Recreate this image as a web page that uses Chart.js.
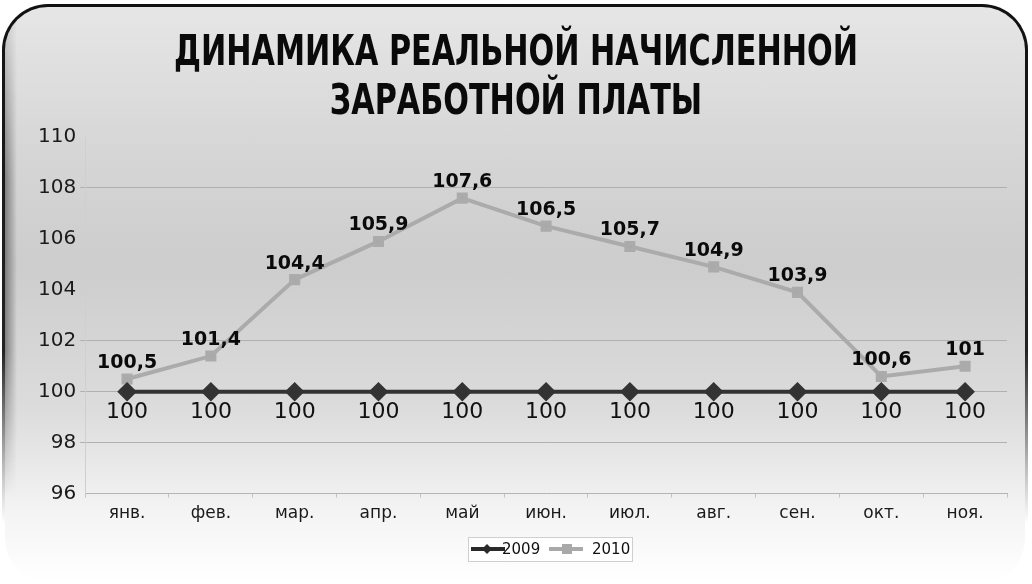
<!DOCTYPE html>
<html><head><meta charset="utf-8">
<script src="https://cdn.jsdelivr.net/npm/chart.js@4"></script>
<style>
html,body{margin:0;padding:0;width:1032px;height:584px;overflow:hidden;background:#fff;}
#frame{position:absolute;left:2px;top:4px;width:1026px;height:578px;border-radius:46px;
 background:linear-gradient(to bottom,#111 0%,#222 60%,#bbb 80%,#fff 90%);}
#inner{position:absolute;left:3px;top:3px;right:3px;bottom:0px;border-radius:43px;overflow:hidden;
 background:linear-gradient(to bottom,#e6e6e6 0%,#d6d6d6 25%,#cdcdcd 45%,#dcdcdc 70%,#f4f4f4 88%,#ffffff 100%);}
#shade{position:absolute;left:0;top:0;width:12px;height:100%;
 background:linear-gradient(to right,rgba(70,70,70,0.6),rgba(120,120,120,0));
 -webkit-mask-image:linear-gradient(to bottom,rgba(0,0,0,0.3) 5%,rgba(0,0,0,1) 30%,rgba(0,0,0,1) 60%,rgba(0,0,0,0) 85%);
 mask-image:linear-gradient(to bottom,rgba(0,0,0,0.3) 5%,rgba(0,0,0,1) 30%,rgba(0,0,0,1) 60%,rgba(0,0,0,0) 85%);}
#title{position:absolute;left:0;width:1032px;top:30px;text-align:center;
 font-family:"DejaVu Sans Condensed",sans-serif;font-weight:bold;
 font-size:40px;line-height:45px;color:#0a0a0a;transform:scale(0.84,1.08);}
canvas{position:absolute;left:0;top:0;}
</style></head>
<body>
<div id="frame"><div id="inner"><div id="shade"></div></div></div>
<div id="title">ДИНАМИКА РЕАЛЬНОЙ НАЧИСЛЕННОЙ<br>ЗАРАБОТНОЙ ПЛАТЫ</div>
<canvas id="c" width="1032" height="584"></canvas>
<script>
const categories = ["янв.","фев.","мар.","апр.","май","июн.","июл.","авг.","сен.","окт.","ноя."];
const values2009 = [100,100,100,100,100,100,100,100,100,100,100];
const values2010 = [100.5,101.4,104.4,105.9,107.6,106.5,105.7,104.9,103.9,100.6,101];
const seriesNames = ["2009","2010"];
const yTicks = [96,98,100,102,104,106,108,110];
const visibleGrid = [98,100,102,108];

const fmt = v => String(v).replace('.', ',');

const labelPlugin = {
  id:'labels',
  afterDatasetsDraw(chart){
    const ctx = chart.ctx;
    ctx.save();
    ctx.textAlign='center';ctx.textBaseline='middle';
    chart.data.datasets.forEach((ds,di)=>{
      const meta = chart.getDatasetMeta(di);
      meta.data.forEach((pt,i)=>{
        const v = ds.data[i];
        if(di===0){
          ctx.font='22px "DejaVu Sans"';ctx.fillStyle='#111';
          ctx.fillText(fmt(v), pt.x, pt.y+21);
        } else {
          ctx.font='bold 19px "DejaVu Sans"';ctx.fillStyle='#0a0a0a';
          ctx.fillText(fmt(v), pt.x, pt.y-16);
        }
      });
    });
    ctx.restore();
  }
};

const legendPlugin = {
  id:'customLegend',
  afterDraw(chart){
    const ctx = chart.ctx;
    ctx.save();
    const bx=468, by=537, bw=164, bh=24;
    ctx.fillStyle='#ffffff';ctx.fillRect(bx,by,bw,bh);
    ctx.strokeStyle='#cfcfcf';ctx.lineWidth=1;ctx.strokeRect(bx+0.5,by+0.5,bw,bh);
    const cy = by+bh/2;
    ctx.strokeStyle='#2a2a2a';ctx.lineWidth=4;
    ctx.beginPath();ctx.moveTo(471,cy);ctx.lineTo(505,cy);ctx.stroke();
    ctx.fillStyle='#2a2a2a';
    ctx.beginPath();ctx.moveTo(487,cy-5);ctx.lineTo(492,cy);ctx.lineTo(487,cy+5);ctx.lineTo(482,cy);ctx.closePath();ctx.fill();
    ctx.strokeStyle='#a9a9a9';ctx.lineWidth=4;
    ctx.beginPath();ctx.moveTo(549,cy);ctx.lineTo(583,cy);ctx.stroke();
    ctx.fillStyle='#a9a9a9';ctx.fillRect(562,cy-5,10,10);
    ctx.font='15px "DejaVu Sans"';ctx.fillStyle='#111';ctx.textBaseline='middle';ctx.textAlign='left';
    ctx.fillText(seriesNames[0],502,cy+1);
    ctx.fillText(seriesNames[1],592,cy+1);
    ctx.restore();
  }
};

new Chart(document.getElementById('c'),{
  type:'line',
  data:{
    labels:categories,
    datasets:[
      {label:seriesNames[0],data:values2009,borderColor:'#333333',backgroundColor:'#333333',
       borderWidth:4,pointStyle:'rectRot',pointRadius:7,pointHoverRadius:7,tension:0},
      {label:seriesNames[1],data:values2010,borderColor:'#ababab',backgroundColor:'#a9a9a9',
       borderWidth:4,pointStyle:'rect',pointRadius:5,pointHoverRadius:5,tension:0}
    ]
  },
  options:{
    responsive:false,animation:false,
    layout:{padding:{left:34,right:25,top:137,bottom:54}},
    plugins:{legend:{display:false},title:{display:false},tooltip:{enabled:false}},
    scales:{
      x:{offset:true,
        grid:{drawOnChartArea:false,offset:true,tickLength:4,color:'#c4c4c4'},
        border:{color:'#b4b4b4',width:1},
        ticks:{color:'#1a1a1a',font:{family:'DejaVu Sans',size:17},padding:6}},
      y:{min:96,max:110,
        afterBuildTicks(scale){scale.ticks = yTicks.map(v=>({value:v}));},
        grid:{color:ctx=>visibleGrid.includes(ctx.tick.value)?'#b0b0b0':'rgba(0,0,0,0)',tickLength:5,lineWidth:1},
        border:{color:'#cfcfcf',width:1},
        ticks:{color:'#1a1a1a',font:{family:'DejaVu Sans',size:20},padding:4}}
    }
  },
  plugins:[labelPlugin,legendPlugin]
});
</script>
</body></html>
